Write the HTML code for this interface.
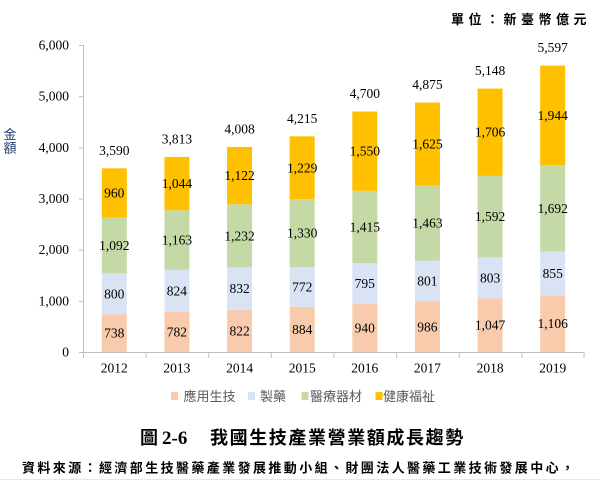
<!DOCTYPE html>
<html><head><meta charset="utf-8"><style>
html,body{margin:0;padding:0;background:#fff;}
svg{display:block;}
.n{font-family:"Liberation Serif",serif;font-size:13.5px;fill:#000;text-anchor:middle;}
.t{font-family:"Liberation Serif",serif;font-size:13.5px;fill:#000;text-anchor:end;}
.lg{font-family:"Liberation Sans","Noto Sans CJK TC",sans-serif;font-size:13px;fill:#595959;}
</style></head><body>
<svg width="600" height="481" viewBox="0 0 600 481" xmlns="http://www.w3.org/2000/svg">
<rect width="600" height="481" fill="#fff"/>
<!-- unit -->
<text x="451" y="24" font-family="'Noto Sans CJK TC',sans-serif" font-weight="bold" font-size="13" letter-spacing="4.5" fill="#000">單位：新臺幣億元</text>
<!-- y axis label -->
<text x="10" y="139" font-family="'Noto Sans CJK TC',sans-serif" font-size="13" fill="#1f3864" text-anchor="middle">金</text>
<text x="10" y="152.5" font-family="'Noto Sans CJK TC',sans-serif" font-size="13" fill="#1f3864" text-anchor="middle">額</text>
<!-- y ticks labels -->
<text class="t" x="69" y="356.5">0</text>
<text class="t" x="69" y="305.3">1,000</text>
<text class="t" x="69" y="254.2">2,000</text>
<text class="t" x="69" y="203">3,000</text>
<text class="t" x="69" y="151.8">4,000</text>
<text class="t" x="69" y="100.7">5,000</text>
<text class="t" x="69" y="49.5">6,000</text>
<g stroke="#bfbfbf" stroke-width="1">
<line x1="83.5" y1="45" x2="83.5" y2="352"/>
<line x1="79" y1="352.5" x2="84" y2="352.5"/>
<line x1="79" y1="301.3" x2="84" y2="301.3"/>
<line x1="79" y1="250.2" x2="84" y2="250.2"/>
<line x1="79" y1="199" x2="84" y2="199"/>
<line x1="79" y1="147.8" x2="84" y2="147.8"/>
<line x1="79" y1="96.7" x2="84" y2="96.7"/>
<line x1="79" y1="45.5" x2="84" y2="45.5"/>
<line x1="83" y1="352.5" x2="584" y2="352.5"/>
<line x1="83.5" y1="352" x2="83.5" y2="358"/>
<line x1="146.1" y1="352" x2="146.1" y2="358"/>
<line x1="208.8" y1="352" x2="208.8" y2="358"/>
<line x1="271.4" y1="352" x2="271.4" y2="358"/>
<line x1="334" y1="352" x2="334" y2="358"/>
<line x1="396.6" y1="352" x2="396.6" y2="358"/>
<line x1="459.3" y1="352" x2="459.3" y2="358"/>
<line x1="521.9" y1="352" x2="521.9" y2="358"/>
<line x1="584" y1="352" x2="584" y2="358"/>
</g>
<!-- bars -->
<g>
<!-- 2012 -->
<rect x="101.8" y="314.24" width="25" height="37.76" fill="#f8cbad"/>
<rect x="101.8" y="273.31" width="25" height="40.93" fill="#dae3f3"/>
<rect x="101.8" y="217.43" width="25" height="55.88" fill="#c5d9a6"/>
<rect x="101.8" y="168.31" width="25" height="49.12" fill="#ffc000"/>
<!-- 2013 -->
<rect x="164.44" y="311.99" width="25" height="40.01" fill="#f8cbad"/>
<rect x="164.44" y="269.83" width="25" height="42.16" fill="#dae3f3"/>
<rect x="164.44" y="210.32" width="25" height="59.51" fill="#c5d9a6"/>
<rect x="164.44" y="156.9" width="25" height="53.42" fill="#ffc000"/>
<!-- 2014 -->
<rect x="227.06" y="309.94" width="25" height="42.06" fill="#f8cbad"/>
<rect x="227.06" y="267.37" width="25" height="42.57" fill="#dae3f3"/>
<rect x="227.06" y="204.33" width="25" height="63.04" fill="#c5d9a6"/>
<rect x="227.06" y="146.92" width="25" height="57.41" fill="#ffc000"/>
<!-- 2015 -->
<rect x="289.69" y="306.77" width="25" height="45.23" fill="#f8cbad"/>
<rect x="289.69" y="267.27" width="25" height="39.5" fill="#dae3f3"/>
<rect x="289.69" y="199.22" width="25" height="68.05" fill="#c5d9a6"/>
<rect x="289.69" y="136.33" width="25" height="62.89" fill="#ffc000"/>
<!-- 2016 -->
<rect x="352.31" y="303.9" width="25" height="48.1" fill="#f8cbad"/>
<rect x="352.31" y="263.23" width="25" height="40.67" fill="#dae3f3"/>
<rect x="352.31" y="190.82" width="25" height="72.41" fill="#c5d9a6"/>
<rect x="352.31" y="111.52" width="25" height="79.3" fill="#ffc000"/>
<!-- 2017 -->
<rect x="414.94" y="301.55" width="25" height="50.45" fill="#f8cbad"/>
<rect x="414.94" y="260.56" width="25" height="40.99" fill="#dae3f3"/>
<rect x="414.94" y="185.71" width="25" height="74.85" fill="#c5d9a6"/>
<rect x="414.94" y="102.56" width="25" height="83.15" fill="#ffc000"/>
<!-- 2018 -->
<rect x="477.56" y="298.43" width="25" height="53.57" fill="#f8cbad"/>
<rect x="477.56" y="257.34" width="25" height="41.09" fill="#dae3f3"/>
<rect x="477.56" y="175.88" width="25" height="81.46" fill="#c5d9a6"/>
<rect x="477.56" y="88.59" width="25" height="87.29" fill="#ffc000"/>
<!-- 2019 -->
<rect x="540.19" y="295.41" width="25" height="56.59" fill="#f8cbad"/>
<rect x="540.19" y="251.66" width="25" height="43.75" fill="#dae3f3"/>
<rect x="540.19" y="165.09" width="25" height="86.57" fill="#c5d9a6"/>
<rect x="540.19" y="65.62" width="25" height="99.47" fill="#ffc000"/>
</g>
<!-- labels -->
<g>
<text class="n" x="114.3" y="337.6">738</text>
<text class="n" x="114.3" y="298.3">800</text>
<text class="n" x="114.3" y="249.9">1,092</text>
<text class="n" x="114.3" y="197.4">960</text>
<text class="n" x="114.3" y="154.8">3,590</text>

<text class="n" x="176.9" y="336.5">782</text>
<text class="n" x="176.9" y="295.4">824</text>
<text class="n" x="176.9" y="244.6">1,163</text>
<text class="n" x="176.9" y="188.1">1,044</text>
<text class="n" x="176.9" y="143.4">3,813</text>

<text class="n" x="239.6" y="335.5">822</text>
<text class="n" x="239.6" y="293.2">832</text>
<text class="n" x="239.6" y="240.4">1,232</text>
<text class="n" x="239.6" y="180.1">1,122</text>
<text class="n" x="239.6" y="133.4">4,008</text>

<text class="n" x="302.2" y="333.9">884</text>
<text class="n" x="302.2" y="291.5">772</text>
<text class="n" x="302.2" y="237.7">1,330</text>
<text class="n" x="302.2" y="172.3">1,229</text>
<text class="n" x="302.2" y="122.8">4,215</text>

<text class="n" x="364.8" y="332.5">940</text>
<text class="n" x="364.8" y="288.1">795</text>
<text class="n" x="364.8" y="231.5">1,415</text>
<text class="n" x="364.8" y="155.7">1,550</text>
<text class="n" x="364.8" y="98">4,700</text>

<text class="n" x="427.4" y="331.3">986</text>
<text class="n" x="427.4" y="285.6">801</text>
<text class="n" x="427.4" y="227.6">1,463</text>
<text class="n" x="427.4" y="148.6">1,625</text>
<text class="n" x="427.4" y="89.1">4,875</text>

<text class="n" x="490.1" y="329.7">1,047</text>
<text class="n" x="490.1" y="282.4">803</text>
<text class="n" x="490.1" y="221.1">1,592</text>
<text class="n" x="490.1" y="136.7">1,706</text>
<text class="n" x="490.1" y="75.1">5,148</text>

<text class="n" x="552.7" y="328.2">1,106</text>
<text class="n" x="552.7" y="278">855</text>
<text class="n" x="552.7" y="212.9">1,692</text>
<text class="n" x="552.7" y="119.9">1,944</text>
<text class="n" x="552.7" y="52.1">5,597</text>
</g>
<!-- years -->
<g>
<text class="n" x="114.3" y="372.5">2012</text>
<text class="n" x="176.9" y="372.5">2013</text>
<text class="n" x="239.6" y="372.5">2014</text>
<text class="n" x="302.2" y="372.5">2015</text>
<text class="n" x="364.8" y="372.5">2016</text>
<text class="n" x="427.4" y="372.5">2017</text>
<text class="n" x="490.1" y="372.5">2018</text>
<text class="n" x="552.7" y="372.5">2019</text>
</g>
<!-- legend -->
<rect x="171" y="392" width="7" height="8" fill="#f8cbad"/>
<text class="lg" x="183.5" y="401">應用生技</text>
<rect x="248" y="392" width="7" height="8" fill="#dae3f3"/>
<text class="lg" x="260" y="401">製藥</text>
<rect x="301.5" y="392" width="7" height="8" fill="#c5d9a6"/>
<text class="lg" x="310" y="401">醫療器材</text>
<rect x="375.5" y="392" width="7" height="8" fill="#ffc000"/>
<text class="lg" x="383" y="401">健康福祉</text>
<!-- caption -->
<text x="140" y="444" font-family="'Noto Sans CJK TC',sans-serif" font-weight="bold" font-size="18" fill="#000">圖</text>
<text x="162" y="444" font-family="'Liberation Serif',serif" font-weight="bold" font-size="19" fill="#000">2-6</text>
<text x="210" y="444" font-family="'Noto Sans CJK TC',sans-serif" font-weight="bold" font-size="18" letter-spacing="1.6" fill="#000">我國生技產業營業額成長趨勢</text>
<!-- source -->
<text x="22" y="472.5" font-family="'Noto Sans CJK TC',sans-serif" font-weight="bold" font-size="13" letter-spacing="2.4" fill="#000">資料來源：經濟部生技醫藥產業發展推動小組、財團法人醫藥工業技術發展中心，</text>
<line x1="0" y1="479.5" x2="600" y2="479.5" stroke="#e6e6e6" stroke-width="1"/>
</svg>
</body></html>
